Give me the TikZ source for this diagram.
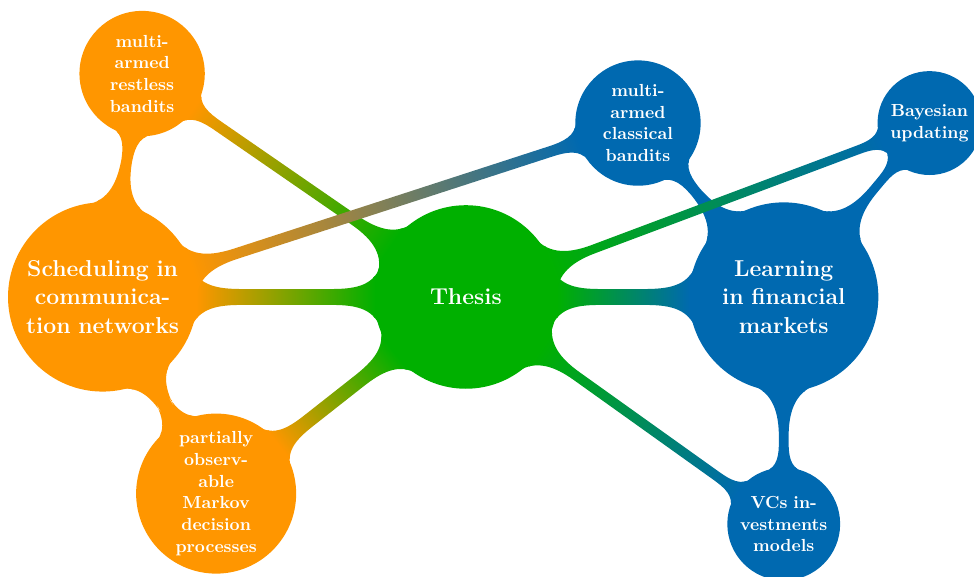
\documentclass[12pt,tikz,border=0pt]{standalone}
\usepackage{tikz}
\usetikzlibrary{mindmap,positioning}

\definecolor{schedorange}{RGB}{255,150,0}
\definecolor{thesisgreen}{RGB}{0,176,0}
\definecolor{learnblue}{RGB}{0,105,176}

\begin{document}
\begin{tikzpicture}[mindmap,
    every node/.style={concept, text=white, execute at begin node=\hskip0pt},
    rootc/.style={concept color=thesisgreen, minimum size=4cm, text width=3.5cm, inner sep=1pt, font=\large\bfseries},
    topic/.style={minimum size=4cm, text width=3.7cm, inner sep=1pt, font=\large\bfseries},
    subtopic/.style={minimum size=2cm, text width=2cm, inner sep=1pt, font=\small\bfseries},
    mainbar/.style={line width=10pt},
    subbar/.style={line width=6pt}]
    \useasboundingbox (-10.26,-6.15) rectangle (11.19,6.54);

    % Root and main topics
    \node[rootc] (thesis) at (0,0) {Thesis};
    \node[topic, concept color=schedorange] (sched) at (-8,0) {Scheduling in communication networks};
    \node[topic, concept color=learnblue] (learn) at (7,0) {Learning in financial markets};

    % Sub topics
    \node[subtopic, concept color=schedorange] (restless) at (-7.13,4.92) {multi-armed restless bandits};
    \node[subtopic, concept color=schedorange] (pomdp) at (-5.5,-4.33) {partially observable Markov decision processes};
    \node[subtopic, concept color=learnblue] (classical) at (3.79,3.83) {multi-armed classical bandits};
    \node[subtopic, concept color=learnblue] (bayes) at (10.21,3.83) {Bayesian updating};
    \node[subtopic, concept color=learnblue] (vcs) at (7,-5) {VCs investments models};

    % Tree connections
    \path[mainbar] (thesis) to[circle connection bar switch color=from (thesisgreen) to (schedorange)] (sched);
    \path[mainbar] (thesis) to[circle connection bar switch color=from (thesisgreen) to (learnblue)] (learn);
    \path[subbar] (sched) to[circle connection bar switch color=from (schedorange) to (schedorange)] (restless);
    \path[subbar] (sched) to[circle connection bar switch color=from (schedorange) to (schedorange)] (pomdp);
    \path[subbar] (learn) to[circle connection bar switch color=from (learnblue) to (learnblue)] (classical);
    \path[subbar] (learn) to[circle connection bar switch color=from (learnblue) to (learnblue)] (bayes);
    \path[subbar] (learn) to[circle connection bar switch color=from (learnblue) to (learnblue)] (vcs);

    % Cross links
    \path[subbar] (restless) to[circle connection bar switch color=from (schedorange) to (thesisgreen)] (thesis);
    \path[subbar] (pomdp) to[circle connection bar switch color=from (schedorange) to (thesisgreen)] (thesis);
    \path[subbar] (sched) to[circle connection bar switch color=from (schedorange) to (learnblue)] (classical);
    \path[subbar] (thesis) to[circle connection bar switch color=from (thesisgreen) to (learnblue)] (bayes);
    \path[subbar] (thesis) to[circle connection bar switch color=from (thesisgreen) to (learnblue)] (vcs);
\end{tikzpicture}
\end{document}
